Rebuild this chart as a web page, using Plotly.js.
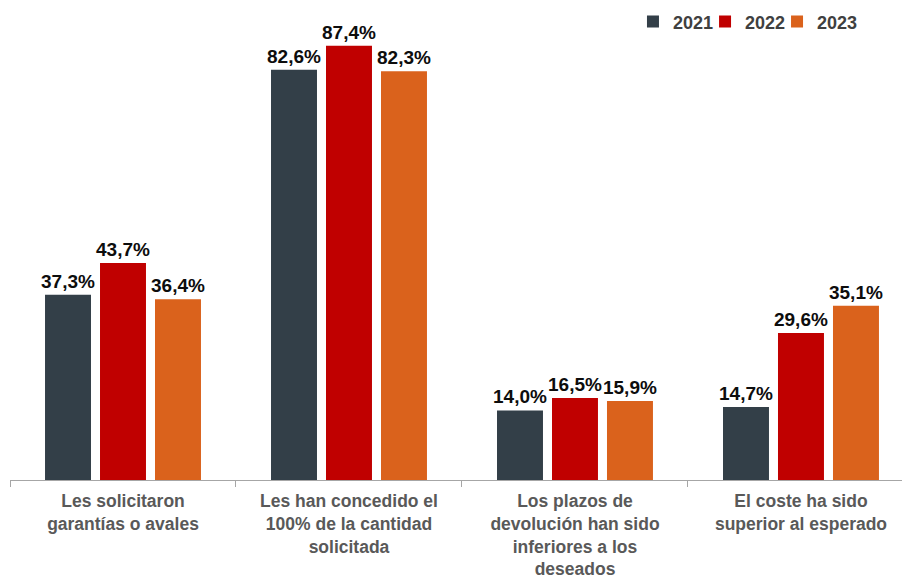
<!DOCTYPE html>
<html>
<head>
<meta charset="utf-8">
<script src="https://cdn.plot.ly/plotly-3.0.1.min.js"></script>
<style>html,body{margin:0;padding:0;background:#fff;}#chart{width:902px;height:579px;}</style>
</head>
<body>
<div id="chart"></div>
<script>
const categories = [
  "Les solicitaron<br>garantías o avales",
  "Les han concedido el<br>100% de la cantidad<br>solicitada",
  "Los plazos de<br>devolución han sido<br>inferiores a los<br>deseados",
  "El coste ha sido<br>superior al esperado"
];
const years = ["2021", "2022", "2023"];
const values2021 = [37.3, 82.6, 14.0, 14.7];
const values2022 = [43.7, 87.4, 16.5, 29.6];
const values2023 = [36.4, 82.3, 15.9, 35.1];
const colors = ["#333F48", "#C00000", "#DA621C"];
const legendIds = ["legend", "legend2", "legend3"];
const legendX = [0.6984, 0.7792, 0.8599];

const series = [values2021, values2022, values2023];
const traces = series.map((vals, i) => ({
  type: "bar",
  name: years[i],
  legend: legendIds[i],
  x: categories,
  y: vals,
  marker: {color: colors[i]},
  texttemplate: "%{y:.1f}%",
  textposition: "outside",
  constraintext: "none",
  cliponaxis: false,
  textfont: {family: "Liberation Sans, Arial, sans-serif", size: 19, color: "#0D0D0D", weight: 700},
  hoverinfo: "none"
}));

const legendStyle = (x) => ({
  orientation: "h",
  x: x, xanchor: "left",
  y: 0.996, yanchor: "middle",
  font: {family: "Liberation Sans, Arial, sans-serif", size: 18, color: "#404040", weight: 700},
  itemwidth: 30,
  bgcolor: "rgba(0,0,0,0)"
});

const layout = {
  width: 902, height: 579,
  margin: {l: 10, r: 0, t: 20, b: 99},
  separators: ",.",
  barmode: "group",
  bargap: 0.27,
  bargroupgap: 0.164,
  paper_bgcolor: "#ffffff",
  plot_bgcolor: "#ffffff",
  showlegend: true,
  legend: legendStyle(legendX[0]),
  legend2: legendStyle(legendX[1]),
  legend3: legendStyle(legendX[2]),
  xaxis: {
    type: "category",
    range: [-0.5, 3.447],
    showline: true,
    linecolor: "#A6A6A6",
    linewidth: 1,
    ticks: "outside",
    tickson: "boundaries",
    ticklen: 6,
    tickcolor: "#A6A6A6",
    ticklabelstandoff: 5,
    showgrid: false,
    tickfont: {family: "Liberation Sans, Arial, sans-serif", size: 17.5, color: "#595959", weight: 700},
    automargin: false
  },
  yaxis: {
    range: [0, 92.6],
    visible: false,
    showgrid: false,
    zeroline: false
  }
};

Plotly.newPlot("chart", traces, layout, {displayModeBar: false, staticPlot: true});
</script>
</body>
</html>
